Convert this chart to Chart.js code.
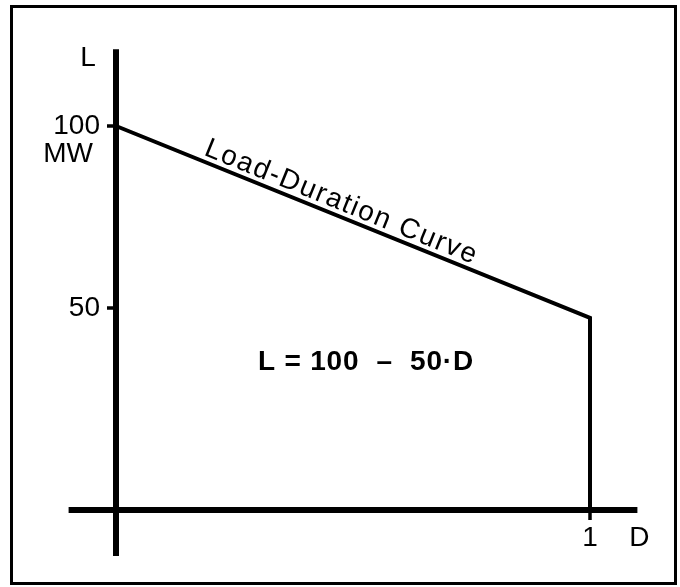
<!DOCTYPE html>
<html>
<head>
    <meta charset="UTF-8">
    <title>Load-Duration Curve</title>
    <script src="https://cdn.jsdelivr.net/npm/chart.js@4.4.1/dist/chart.umd.min.js"></script>
</head>
<style>
    body { margin: 0; background: #fff; }
    canvas { display: block; }
</style>
<body>
    <canvas id="chart" width="680" height="587"></canvas>

    <script>
        // curve: L = 100 - 50*D, then drops to zero at D = 1
        var durations = [0, 1, 1];
        var loads = [100, 50, 0];

        var yTickValues = [100, 52.6];
        var yTickLabels = ['100', '50'];
        var xTickValues = [1];
        var xTickLabels = ['1'];

        var yTitle = 'L';
        var yUnit = 'MW';
        var xTitle = 'D';
        var curveLabel = 'Load-Duration Curve';
        var equation = 'L = 100  \u2013  50\u00b7D';

        var FONT = '"Liberation Sans", Arial, sans-serif';

        var drawing = {
            id: 'drawing',
            beforeDraw: function (chart) {
                var ctx = chart.ctx;
                ctx.save();
                ctx.fillStyle = '#fff';
                ctx.fillRect(0, 0, chart.width, chart.height);
                ctx.strokeStyle = '#000';
                ctx.lineWidth = 3;
                ctx.strokeRect(11.5, 6.5, 664, 577);
                ctx.restore();
            },
            afterDatasetsDraw: function (chart) {
                var ctx = chart.ctx;
                var xs = chart.scales.x, ys = chart.scales.y;
                var area = chart.chartArea;
                var x0 = xs.getPixelForValue(0);
                var y0 = ys.getPixelForValue(0);

                ctx.save();
                ctx.strokeStyle = '#000';
                ctx.fillStyle = '#000';
                ctx.lineCap = 'butt';

                // axes
                ctx.lineWidth = 6;
                ctx.beginPath();
                ctx.moveTo(x0, area.top);
                ctx.lineTo(x0, area.bottom);
                ctx.moveTo(area.left, y0);
                ctx.lineTo(area.right, y0);
                ctx.stroke();

                // ticks
                ctx.lineWidth = 3.5;
                ctx.beginPath();
                yTickValues.forEach(function (v) {
                    var y = ys.getPixelForValue(v);
                    ctx.moveTo(x0 - 9, y);
                    ctx.lineTo(x0, y);
                });
                xTickValues.forEach(function (v) {
                    var x = xs.getPixelForValue(v);
                    ctx.moveTo(x, y0);
                    ctx.lineTo(x, y0 + 10);
                });
                ctx.stroke();

                // tick labels
                ctx.font = '28px ' + FONT;
                ctx.textBaseline = 'middle';
                ctx.textAlign = 'right';
                yTickValues.forEach(function (v, i) {
                    ctx.fillText(yTickLabels[i], x0 - 16, ys.getPixelForValue(v));
                });
                ctx.fillText(yUnit, x0 - 23, ys.getPixelForValue(100) + 28);
                ctx.textAlign = 'center';
                xTickValues.forEach(function (v, i) {
                    ctx.fillText(xTickLabels[i], xs.getPixelForValue(v), y0 + 28);
                });

                // axis titles
                ctx.fillText(yTitle, x0 - 28, area.top + 9);
                ctx.fillText(xTitle, area.right + 2, y0 + 28);

                // equation
                ctx.font = 'bold 28px ' + FONT;
                ctx.letterSpacing = '0.8px';
                ctx.textAlign = 'left';
                ctx.fillText(equation, 258, 362);

                // label along the curve
                var px1 = xs.getPixelForValue(durations[0]), py1 = ys.getPixelForValue(loads[0]);
                var px2 = xs.getPixelForValue(durations[1]), py2 = ys.getPixelForValue(loads[1]);
                var ang = Math.atan2(py2 - py1, px2 - px1);
                var t = 0.179;
                ctx.translate(px1 + (px2 - px1) * t, py1 + (py2 - py1) * t);
                ctx.rotate(ang);
                ctx.font = '28px ' + FONT;
                ctx.letterSpacing = '1.7px';
                ctx.textBaseline = 'alphabetic';
                ctx.fillText(curveLabel, 0, -6);
                ctx.restore();
            }
        };

        new Chart(document.getElementById('chart'), {
            type: 'scatter',
            data: {
                datasets: [{
                    data: durations.map(function (d, i) { return {x: d, y: loads[i]}; }),
                    showLine: true,
                    borderColor: '#000',
                    borderWidth: 4,
                    borderJoinStyle: 'miter',
                    pointRadius: 0,
                    fill: false
                }]
            },
            options: {
                responsive: false,
                animation: false,
                layout: {padding: {left: 68.6, right: 42.6, top: 49.2, bottom: 31}},
                plugins: {legend: {display: false}, tooltip: {enabled: false}},
                scales: {
                    x: {type: 'linear', min: -0.1, max: 1.1, display: false},
                    y: {type: 'linear', min: -12, max: 120, display: false}
                }
            },
            plugins: [drawing]
        });
    </script>
</body>
</html>
